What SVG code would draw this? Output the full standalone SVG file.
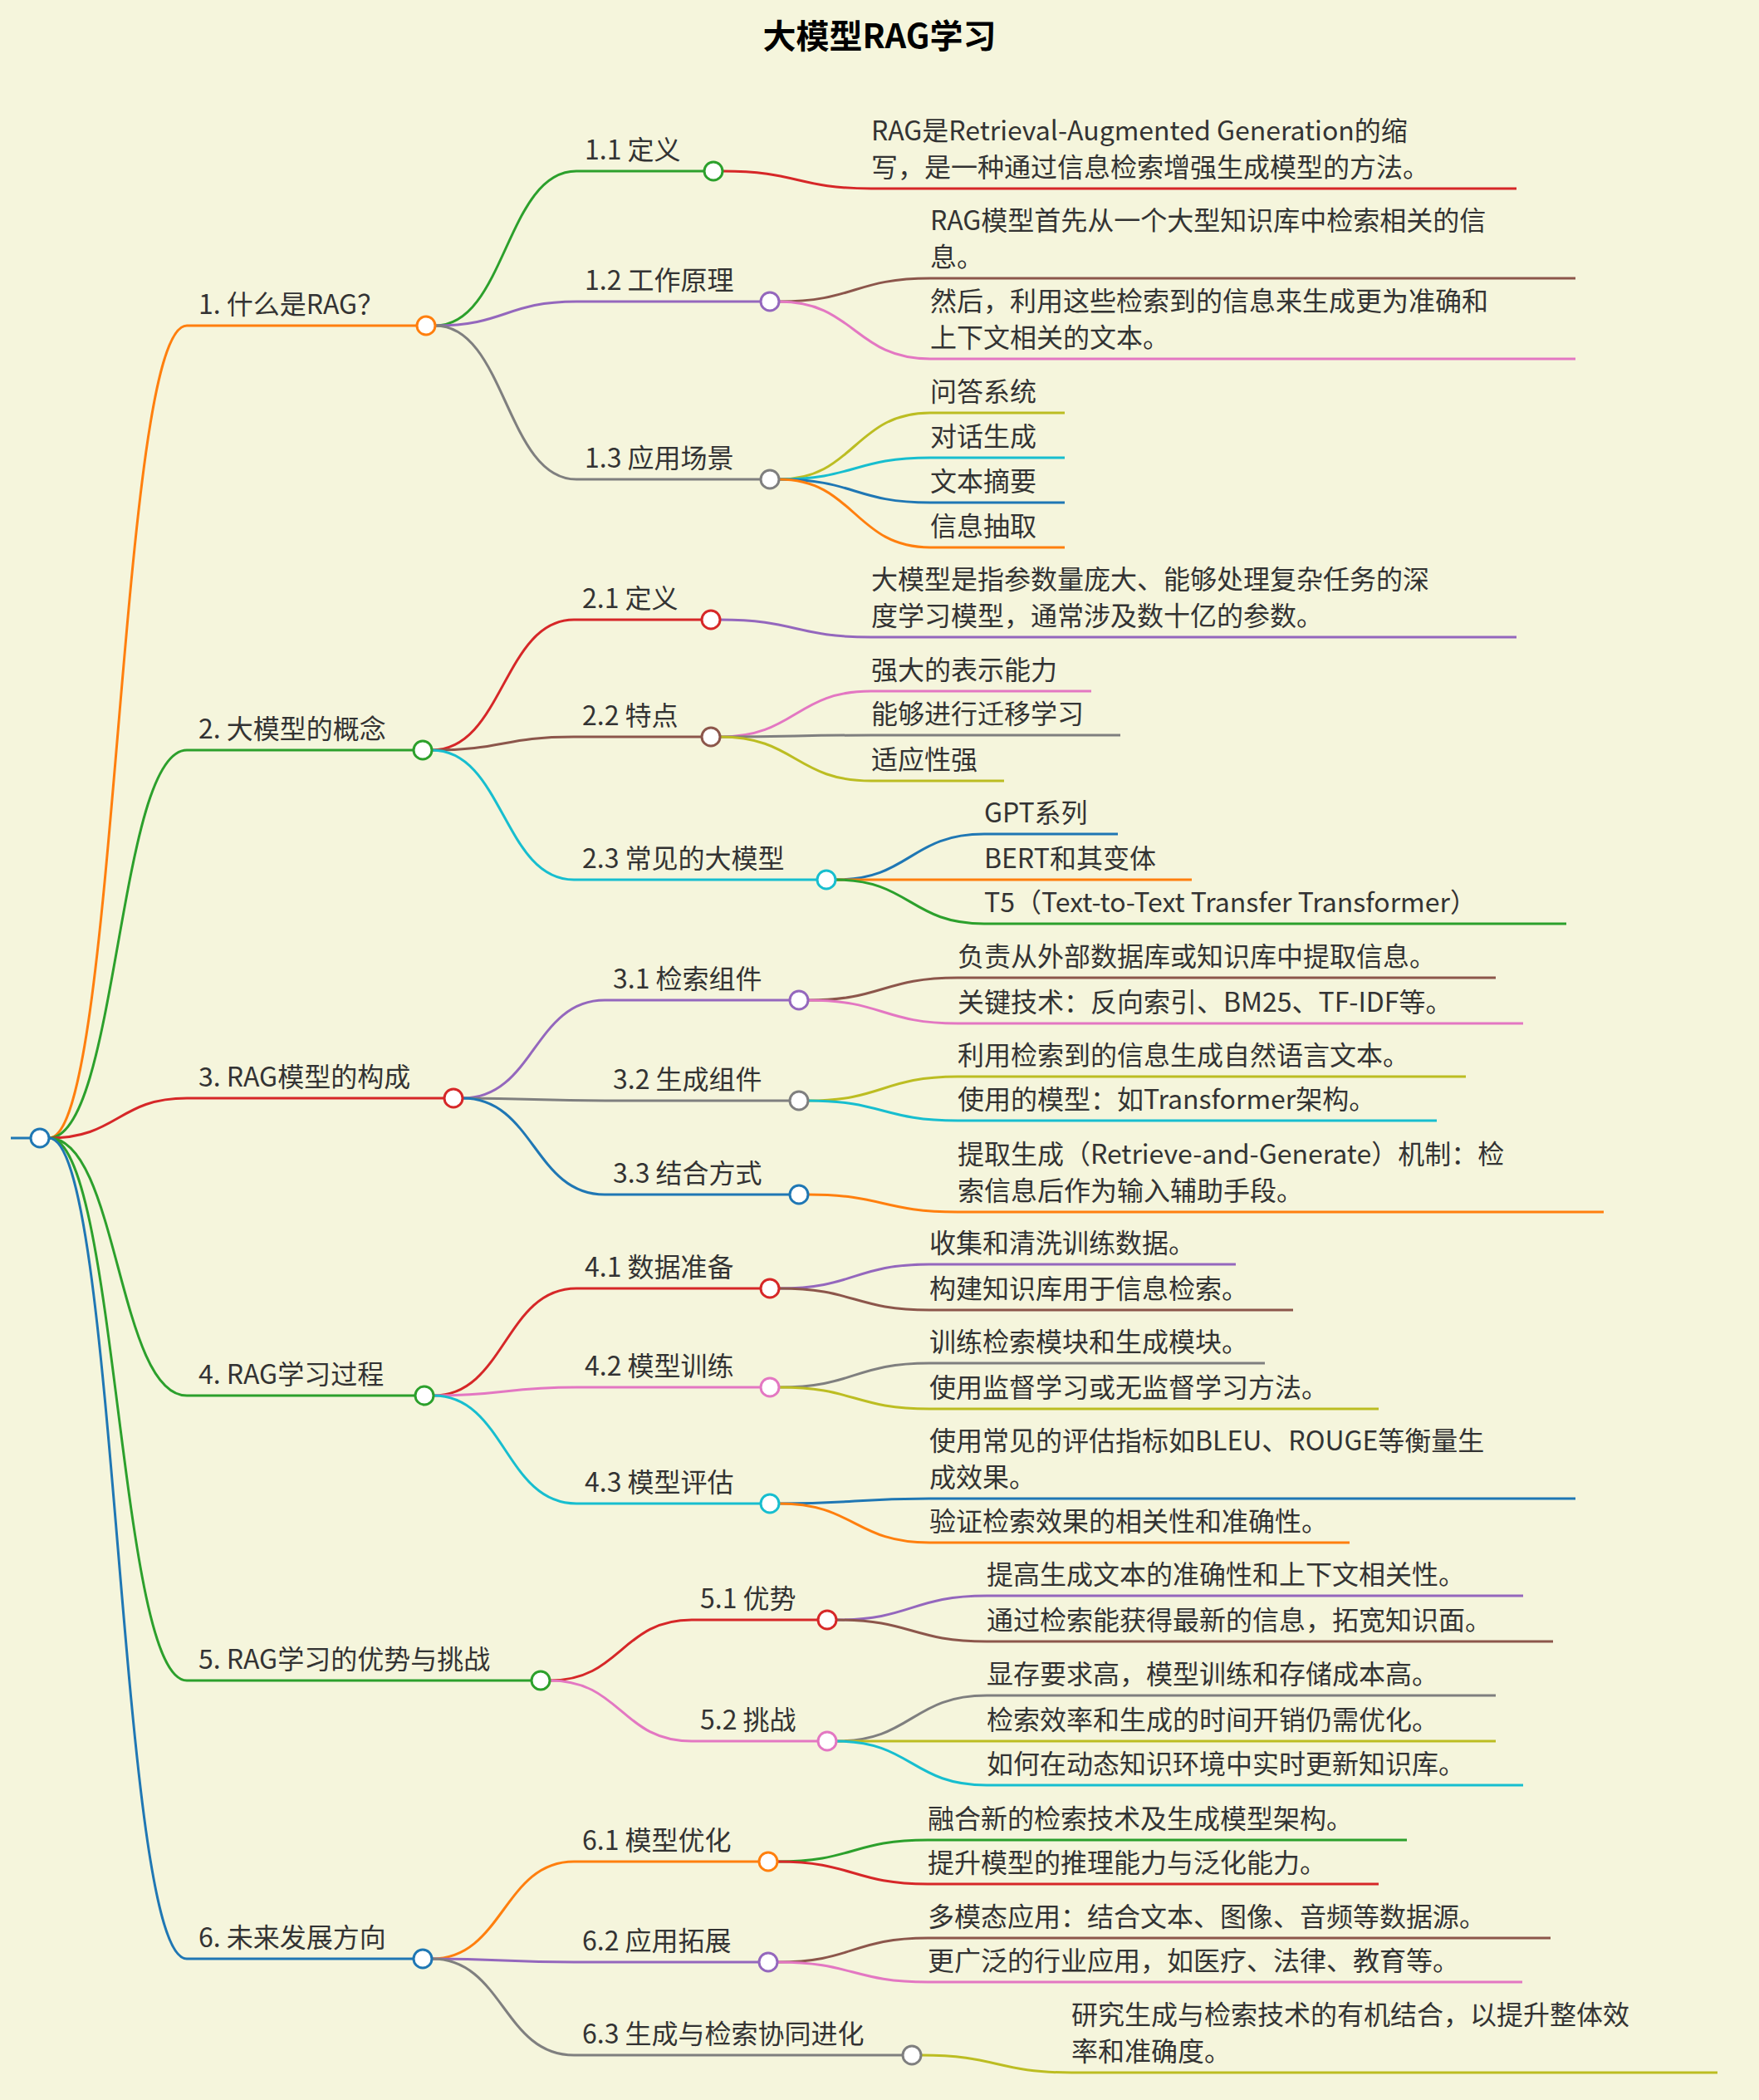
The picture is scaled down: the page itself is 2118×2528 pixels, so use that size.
<svg xmlns="http://www.w3.org/2000/svg" width="2118" height="2528" viewBox="0 0 2118 2528">
<style>
text{font-family:"Noto Sans CJK SC","Noto Sans",sans-serif;font-size:32px;fill:#333}
.t{font-size:40px;font-weight:bold;fill:#000}
path{fill:none;stroke-width:3}
circle{fill:#fff;stroke-width:3}
.or{stroke:#ff7f0e}.gr{stroke:#2ca02c}.rd{stroke:#d62728}.bl{stroke:#1f77b4}.pu{stroke:#9467bd}.gy{stroke:#7f7f7f}.br{stroke:#8c564b}.cy{stroke:#17becf}.pk{stroke:#e377c2}.ol{stroke:#bcbd22}
</style>
<rect width="2118" height="2528" fill="#f5f5dc"/>
<text class="t" x="1059" y="58" text-anchor="middle">大模型RAG学习</text>
<g id="connectors">
<path class="bl" d="M13 1370H37"/>
<path class="or" d="M59 1370C142 1370 142 392 225 392"/>
<path class="gr" d="M59 1370C142 1370 142 903 225 903"/>
<path class="rd" d="M59 1370C142 1370 142 1322 225 1322"/>
<path class="gr" d="M59 1370C142 1370 142 1680 225 1680"/>
<path class="gr" d="M59 1370C142 1370 142 2023 225 2023"/>
<path class="bl" d="M59 1370C142 1370 142 2358 225 2358"/>
<path class="gr" d="M524 392C609 392 609 206 694 206"/>
<path class="pu" d="M524 392C609 392 609 363 694 363"/>
<path class="gy" d="M524 392C609 392 609 577 694 577"/>
<path class="rd" d="M520 903C606 903 606 746 691 746"/>
<path class="br" d="M520 903C606 903 606 887 691 887"/>
<path class="cy" d="M520 903C606 903 606 1059 691 1059"/>
<path class="pu" d="M557 1322C643 1322 643 1204 728 1204"/>
<path class="gy" d="M557 1322C643 1322 643 1325 728 1325"/>
<path class="bl" d="M557 1322C643 1322 643 1438 728 1438"/>
<path class="rd" d="M522 1680C608 1680 608 1551 694 1551"/>
<path class="pk" d="M522 1680C608 1680 608 1670 694 1670"/>
<path class="cy" d="M522 1680C608 1680 608 1810 694 1810"/>
<path class="rd" d="M662 2023C748 2023 748 1950 833 1950"/>
<path class="pk" d="M662 2023C748 2023 748 2096 833 2096"/>
<path class="or" d="M520 2358C606 2358 606 2241 691 2241"/>
<path class="pu" d="M520 2358C606 2358 606 2362 691 2362"/>
<path class="gy" d="M520 2358C606 2358 606 2474 691 2474"/>
<path class="rd" d="M870 206C960 206 960 227 1049 227"/>
<path class="br" d="M938 363C1029 363 1029 335 1120 335"/>
<path class="pk" d="M938 363C1029 363 1029 432 1120 432"/>
<path class="ol" d="M938 577C1029 577 1029 497 1120 497"/>
<path class="cy" d="M938 577C1029 577 1029 551 1120 551"/>
<path class="bl" d="M938 577C1029 577 1029 605 1120 605"/>
<path class="or" d="M938 577C1029 577 1029 659 1120 659"/>
<path class="pu" d="M867 746C958 746 958 767 1049 767"/>
<path class="pk" d="M867 887C958 887 958 832 1049 832"/>
<path class="gy" d="M867 887C958 887 958 885 1049 885"/>
<path class="ol" d="M867 887C958 887 958 940 1049 940"/>
<path class="bl" d="M1006 1059C1096 1059 1096 1004 1185 1004"/>
<path class="or" d="M1006 1059C1096 1059 1096 1059 1185 1059"/>
<path class="gr" d="M1006 1059C1096 1059 1096 1112 1185 1112"/>
<path class="br" d="M973 1204C1063 1204 1063 1177 1153 1177"/>
<path class="pk" d="M973 1204C1063 1204 1063 1232 1153 1232"/>
<path class="ol" d="M973 1325C1063 1325 1063 1296 1153 1296"/>
<path class="cy" d="M973 1325C1063 1325 1063 1349 1153 1349"/>
<path class="or" d="M973 1438C1063 1438 1063 1459 1153 1459"/>
<path class="pu" d="M938 1551C1029 1551 1029 1522 1119 1522"/>
<path class="br" d="M938 1551C1029 1551 1029 1577 1119 1577"/>
<path class="gy" d="M938 1670C1029 1670 1029 1641 1119 1641"/>
<path class="ol" d="M938 1670C1029 1670 1029 1696 1119 1696"/>
<path class="bl" d="M938 1810C1029 1810 1029 1804 1119 1804"/>
<path class="or" d="M938 1810C1029 1810 1029 1857 1119 1857"/>
<path class="pu" d="M1007 1950C1098 1950 1098 1921 1188 1921"/>
<path class="br" d="M1007 1950C1098 1950 1098 1976 1188 1976"/>
<path class="gy" d="M1007 2096C1098 2096 1098 2041 1188 2041"/>
<path class="ol" d="M1007 2096C1098 2096 1098 2096 1188 2096"/>
<path class="cy" d="M1007 2096C1098 2096 1098 2149 1188 2149"/>
<path class="gr" d="M936 2241C1027 2241 1027 2215 1117 2215"/>
<path class="rd" d="M936 2241C1027 2241 1027 2268 1117 2268"/>
<path class="br" d="M936 2362C1027 2362 1027 2333 1117 2333"/>
<path class="pk" d="M936 2362C1027 2362 1027 2386 1117 2386"/>
<path class="ol" d="M1109 2474C1200 2474 1200 2495 1290 2495"/>
</g>
<g id="root"><circle class="bl" cx="48" cy="1370" r="11"/></g>
<g id="n1"><path class="or" d="M225 392H502"/><text x="239" y="378">1. 什么是RAG？</text><circle class="or" cx="513" cy="392" r="11"/></g>
<g id="n2"><path class="gr" d="M225 903H498"/><text x="239" y="889">2. 大模型的概念</text><circle class="gr" cx="509" cy="903" r="11"/></g>
<g id="n3"><path class="rd" d="M225 1322H535"/><text x="239" y="1308">3. RAG模型的构成</text><circle class="rd" cx="546" cy="1322" r="11"/></g>
<g id="n4"><path class="gr" d="M225 1680H500"/><text x="239" y="1666">4. RAG学习过程</text><circle class="gr" cx="511" cy="1680" r="11"/></g>
<g id="n5"><path class="gr" d="M225 2023H640"/><text x="239" y="2009">5. RAG学习的优势与挑战</text><circle class="gr" cx="651" cy="2023" r="11"/></g>
<g id="n6"><path class="bl" d="M225 2358H498"/><text x="239" y="2344">6. 未来发展方向</text><circle class="bl" cx="509" cy="2358" r="11"/></g>
<g id="n11"><path class="gr" d="M694 206H848"/><text x="704" y="192">1.1 定义</text><circle class="gr" cx="859" cy="206" r="11"/></g>
<g id="n12"><path class="pu" d="M694 363H916"/><text x="704" y="349">1.2 工作原理</text><circle class="pu" cx="927" cy="363" r="11"/></g>
<g id="n13"><path class="gy" d="M694 577H916"/><text x="704" y="563">1.3 应用场景</text><circle class="gy" cx="927" cy="577" r="11"/></g>
<g id="n21"><path class="rd" d="M691 746H845"/><text x="701" y="732">2.1 定义</text><circle class="rd" cx="856" cy="746" r="11"/></g>
<g id="n22"><path class="br" d="M691 887H845"/><text x="701" y="873">2.2 特点</text><circle class="br" cx="856" cy="887" r="11"/></g>
<g id="n23"><path class="cy" d="M691 1059H984"/><text x="701" y="1045">2.3 常见的大模型</text><circle class="cy" cx="995" cy="1059" r="11"/></g>
<g id="n31"><path class="pu" d="M728 1204H951"/><text x="738" y="1190">3.1 检索组件</text><circle class="pu" cx="962" cy="1204" r="11"/></g>
<g id="n32"><path class="gy" d="M728 1325H951"/><text x="738" y="1311">3.2 生成组件</text><circle class="gy" cx="962" cy="1325" r="11"/></g>
<g id="n33"><path class="bl" d="M728 1438H951"/><text x="738" y="1424">3.3 结合方式</text><circle class="bl" cx="962" cy="1438" r="11"/></g>
<g id="n41"><path class="rd" d="M694 1551H916"/><text x="704" y="1537">4.1 数据准备</text><circle class="rd" cx="927" cy="1551" r="11"/></g>
<g id="n42"><path class="pk" d="M694 1670H916"/><text x="704" y="1656">4.2 模型训练</text><circle class="pk" cx="927" cy="1670" r="11"/></g>
<g id="n43"><path class="cy" d="M694 1810H916"/><text x="704" y="1796">4.3 模型评估</text><circle class="cy" cx="927" cy="1810" r="11"/></g>
<g id="n51"><path class="rd" d="M833 1950H985"/><text x="843" y="1936">5.1 优势</text><circle class="rd" cx="996" cy="1950" r="11"/></g>
<g id="n52"><path class="pk" d="M833 2096H985"/><text x="843" y="2082">5.2 挑战</text><circle class="pk" cx="996" cy="2096" r="11"/></g>
<g id="n61"><path class="or" d="M691 2241H914"/><text x="701" y="2227">6.1 模型优化</text><circle class="or" cx="925" cy="2241" r="11"/></g>
<g id="n62"><path class="pu" d="M691 2362H914"/><text x="701" y="2348">6.2 应用拓展</text><circle class="pu" cx="925" cy="2362" r="11"/></g>
<g id="n63"><path class="gy" d="M691 2474H1087"/><text x="701" y="2460">6.3 生成与检索协同进化</text><circle class="gy" cx="1098" cy="2474" r="11"/></g>
<g id="l111"><path class="rd" d="M1049 227H1826"/><text x="1049" y="169">RAG是Retrieval-Augmented Generation的缩</text><text x="1049" y="213">写，是一种通过信息检索增强生成模型的方法。</text></g>
<g id="l121"><path class="br" d="M1120 335H1897"/><text x="1120" y="277">RAG模型首先从一个大型知识库中检索相关的信</text><text x="1120" y="321">息。</text></g>
<g id="l122"><path class="pk" d="M1120 432H1897"/><text x="1120" y="374">然后，利用这些检索到的信息来生成更为准确和</text><text x="1120" y="418">上下文相关的文本。</text></g>
<g id="l131"><path class="ol" d="M1120 497H1282"/><text x="1120" y="483">问答系统</text></g>
<g id="l132"><path class="cy" d="M1120 551H1282"/><text x="1120" y="537">对话生成</text></g>
<g id="l133"><path class="bl" d="M1120 605H1282"/><text x="1120" y="591">文本摘要</text></g>
<g id="l134"><path class="or" d="M1120 659H1282"/><text x="1120" y="645">信息抽取</text></g>
<g id="l211"><path class="pu" d="M1049 767H1826"/><text x="1049" y="709">大模型是指参数量庞大、能够处理复杂任务的深</text><text x="1049" y="753">度学习模型，通常涉及数十亿的参数。</text></g>
<g id="l221"><path class="pk" d="M1049 832H1314"/><text x="1049" y="818">强大的表示能力</text></g>
<g id="l222"><path class="gy" d="M1049 885H1349"/><text x="1049" y="871">能够进行迁移学习</text></g>
<g id="l223"><path class="ol" d="M1049 940H1209"/><text x="1049" y="926">适应性强</text></g>
<g id="l231"><path class="bl" d="M1185 1004H1346"/><text x="1185" y="990">GPT系列</text></g>
<g id="l232"><path class="or" d="M1185 1059H1435"/><text x="1185" y="1045">BERT和其变体</text></g>
<g id="l233"><path class="gr" d="M1185 1112H1886"/><text x="1185" y="1098">T5（Text-to-Text Transfer Transformer）</text></g>
<g id="l311"><path class="br" d="M1153 1177H1801"/><text x="1153" y="1163">负责从外部数据库或知识库中提取信息。</text></g>
<g id="l312"><path class="pk" d="M1153 1232H1834"/><text x="1153" y="1218">关键技术：反向索引、BM25、TF-IDF等。</text></g>
<g id="l321"><path class="ol" d="M1153 1296H1765"/><text x="1153" y="1282">利用检索到的信息生成自然语言文本。</text></g>
<g id="l322"><path class="cy" d="M1153 1349H1730"/><text x="1153" y="1335">使用的模型：如Transformer架构。</text></g>
<g id="l331"><path class="or" d="M1153 1459H1931"/><text x="1153" y="1401">提取生成（Retrieve-and-Generate）机制：检</text><text x="1153" y="1445">索信息后作为输入辅助手段。</text></g>
<g id="l411"><path class="pu" d="M1119 1522H1488"/><text x="1119" y="1508">收集和清洗训练数据。</text></g>
<g id="l412"><path class="br" d="M1119 1577H1557"/><text x="1119" y="1563">构建知识库用于信息检索。</text></g>
<g id="l421"><path class="gy" d="M1119 1641H1523"/><text x="1119" y="1627">训练检索模块和生成模块。</text></g>
<g id="l422"><path class="ol" d="M1119 1696H1660"/><text x="1119" y="1682">使用监督学习或无监督学习方法。</text></g>
<g id="l431"><path class="bl" d="M1119 1804H1897"/><text x="1119" y="1746">使用常见的评估指标如BLEU、ROUGE等衡量生</text><text x="1119" y="1790">成效果。</text></g>
<g id="l432"><path class="or" d="M1119 1857H1625"/><text x="1119" y="1843">验证检索效果的相关性和准确性。</text></g>
<g id="l511"><path class="pu" d="M1188 1921H1834"/><text x="1188" y="1907">提高生成文本的准确性和上下文相关性。</text></g>
<g id="l512"><path class="br" d="M1188 1976H1870"/><text x="1188" y="1962">通过检索能获得最新的信息，拓宽知识面。</text></g>
<g id="l521"><path class="gy" d="M1188 2041H1801"/><text x="1188" y="2027">显存要求高，模型训练和存储成本高。</text></g>
<g id="l522"><path class="ol" d="M1188 2096H1801"/><text x="1188" y="2082">检索效率和生成的时间开销仍需优化。</text></g>
<g id="l523"><path class="cy" d="M1188 2149H1834"/><text x="1188" y="2135">如何在动态知识环境中实时更新知识库。</text></g>
<g id="l611"><path class="gr" d="M1117 2215H1694"/><text x="1117" y="2201">融合新的检索技术及生成模型架构。</text></g>
<g id="l612"><path class="rd" d="M1117 2268H1660"/><text x="1117" y="2254">提升模型的推理能力与泛化能力。</text></g>
<g id="l621"><path class="br" d="M1117 2333H1867"/><text x="1117" y="2319">多模态应用：结合文本、图像、音频等数据源。</text></g>
<g id="l622"><path class="pk" d="M1117 2386H1833"/><text x="1117" y="2372">更广泛的行业应用，如医疗、法律、教育等。</text></g>
<g id="l631"><path class="ol" d="M1290 2495H2068"/><text x="1290" y="2437">研究生成与检索技术的有机结合，以提升整体效</text><text x="1290" y="2481">率和准确度。</text></g>
</svg>
